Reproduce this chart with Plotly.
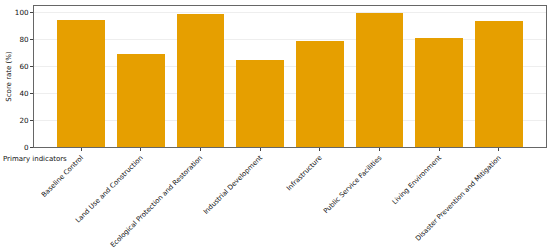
import plotly.graph_objects as go

categories = ["Baseline Control", "Land Use and Construction", "Ecological Protection and Restoration",
              "Industrial Development", "Infrastructure", "Public Service Facilities",
              "Living Environment", "Disaster Prevention and Mitigation"]
scores = [94.5, 69.3, 98.5, 64.5, 78.9, 99.7, 80.7, 93.3]
y_ticks = [0, 20, 40, 60, 80, 100]

xs = list(range(len(categories)))
fig = go.Figure(go.Bar(x=xs, y=scores, width=0.8, marker=dict(color="#E69F00", line=dict(width=0))))

font = "DejaVu Sans"
fig.update_layout(
    width=550, height=248,
    margin=dict(l=34, r=4, t=6, b=101),
    plot_bgcolor="white", paper_bgcolor="white",
    font=dict(family=font, size=7, color="#111"),
    showlegend=False,
    bargap=0,
)
fig.update_xaxes(
    range=[-0.79, 7.79], tickmode="array", tickvals=xs, ticktext=categories,
    tickangle=-45, ticks="outside", ticklen=3, tickcolor="#444",
    showline=True, linecolor="#666", linewidth=1, mirror=True,
    showgrid=False, automargin=False, tickfont=dict(size=6.8),
)
fig.update_yaxes(
    range=[0, 104.7], tickmode="array", tickvals=y_ticks,
    ticks="outside", ticklen=3, tickcolor="#444",
    showline=True, linecolor="#666", linewidth=1, mirror=True,
    showgrid=True, gridcolor="#eeeeee", gridwidth=0.7, zeroline=False,
    automargin=False, tickfont=dict(size=7.2),
    title=dict(text="Score rate (%)", font=dict(size=7), standoff=2),
)
fig.add_annotation(text="Primary indicators", xref="paper", yref="paper", x=-0.064, y=-0.04,
                   xanchor="left", yanchor="top", showarrow=False, font=dict(size=7))
fig.write_html("out.html", config={"displayModeBar": False},
               post_script="document.body.style.margin='0px';")
